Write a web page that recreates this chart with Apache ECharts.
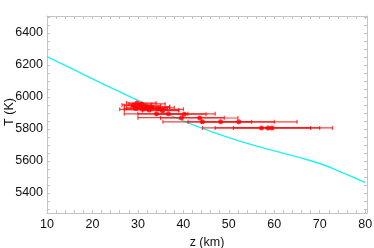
<!DOCTYPE html>
<html><head><meta charset="utf-8">
<script src="https://cdn.jsdelivr.net/npm/echarts@6/dist/echarts.min.js"></script>
<style>html,body{margin:0;padding:0;background:#fff}#c{width:374px;height:248px}</style>
</head><body><div id="c"></div>
<script>
// Model curve
const curveZ = [10, 15, 20, 25, 30, 35, 40, 45, 50, 55, 60, 65, 70, 75, 80];
const curveT = [6252, 6183, 6112, 6045, 5978, 5913, 5850, 5796, 5746, 5702, 5663, 5625, 5584, 5527, 5465];
// Measurements: z, T, z error-bar limits
const ptZ    = [29.0, 29.8, 30.3, 30.8, 31.5, 32.0, 29.5, 31.0, 33.0, 34.5, 32.5, 35.4, 34.1, 36.7, 40.2, 39.6, 43.6, 44.2, 48.2, 52.2, 57.2, 58.6, 59.5];
const ptT    = [5950, 5962, 5945, 5956, 5940, 5932, 5928, 5922, 5935, 5926, 5918, 5914, 5894, 5894, 5892, 5870, 5868, 5844, 5844, 5844, 5806, 5806, 5806];
const ptZmin = [26.5, 27.5, 27.0, 28.0, 28.5, 27.5, 27.0, 26.0, 29.0, 30.0, 27.0, 31.0, 27.0, 30.0, 34.0, 30.0, 35.0, 35.5, 41.0, 44.0, 44.2, 47.0, 51.0];
const ptZmax = [33.0, 34.0, 35.0, 36.0, 37.0, 38.0, 36.0, 40.0, 37.0, 36.5, 39.0, 39.0, 41.0, 47.0, 45.0, 49.0, 52.0, 55.0, 60.0, 65.0, 68.0, 70.0, 72.8];
const yTicks = [5400, 5600, 5800, 6000, 6200, 6400];
const xTicks = [10, 20, 30, 40, 50, 60, 70, 80];

const chart = echarts.init(document.getElementById('c'), null, {renderer: 'canvas'});
const frame = '#c4c4c4';
const font = 'Liberation Sans, Arial, sans-serif';
const yMinor = []; for (let v = 5300; v <= 6500; v += 50) yMinor.push(v);
const xMinor = []; for (let v = 10; v <= 80; v += 2) xMinor.push(v);

function xAx(pos, show) {
  return {
    type: 'value', position: pos, min: 10, max: 80.4,
    axisLine: {show: true, onZero: false, lineStyle: {color: frame, width: 1}},
    axisTick: {show: true, inside: true, length: 3, customValues: xMinor, lineStyle: {color: frame}},
    axisLabel: {show: show, customValues: xTicks, formatter: v => String(v), color: '#111', fontSize: 12.5, fontFamily: font, margin: 5},
    splitLine: {show: false},
    name: show ? 'z (km)' : '', nameLocation: 'middle', nameGap: 22,
    nameTextStyle: {color: '#111', fontSize: 12.5, fontFamily: font}
  };
}
function yAx(pos, show) {
  return {
    type: 'value', position: pos, min: 5275, max: 6505,
    axisLine: {show: true, onZero: false, lineStyle: {color: frame, width: 1}},
    axisTick: {show: true, inside: true, length: 3, customValues: yMinor, lineStyle: {color: frame}},
    axisLabel: {show: show, customValues: yTicks, formatter: v => String(v), color: '#111', fontSize: 12.5, fontFamily: font, margin: 4},
    splitLine: {show: false}
  };
}

const errData = ptZ.map((z, i) => [ptZmin[i], ptZmax[i], ptT[i]]);
const ptData = ptZ.map((z, i) => [z, ptT[i]]);

chart.setOption({
  animation: false,
  grid: {left: 47, right: 7, top: 16, bottom: 35, containLabel: false, outerBoundsMode: 'none'},
  xAxis: [xAx('bottom', true), xAx('top', false)],
  yAxis: [yAx('left', true), yAx('right', false)],
  graphic: [{
    type: 'text', x: 10, y: 112, rotation: Math.PI / 2,
    style: {text: 'T (K)', fill: '#111', font: '12.5px Liberation Sans, Arial, sans-serif', align: 'center', verticalAlign: 'middle'}
  }],
  series: [
    {
      type: 'line', data: curveZ.map((z, i) => [z, curveT[i]]), smooth: 0.5,
      showSymbol: false, lineStyle: {color: '#1ff2f2', width: 1.4}, z: 1
    },
    {
      type: 'custom', z: 2,
      renderItem: function (params, api) {
        const a = api.coord([api.value(0), api.value(2)]);
        const b = api.coord([api.value(1), api.value(2)]);
        const h = 2;
        const st = {stroke: 'rgba(255,0,0,0.75)', lineWidth: 1.2};
        return {type: 'group', children: [
          {type: 'line', shape: {x1: a[0], y1: a[1], x2: b[0], y2: b[1]}, style: st},
          {type: 'line', shape: {x1: a[0], y1: a[1] - h, x2: a[0], y2: a[1] + h}, style: st},
          {type: 'line', shape: {x1: b[0], y1: b[1] - h, x2: b[0], y2: b[1] + h}, style: st}
        ]};
      },
      data: errData
    },
    {
      type: 'scatter', data: ptData, symbol: 'circle', symbolSize: 5,
      itemStyle: {color: '#ff0000'}, z: 3
    }
  ]
});
</script></body></html>
